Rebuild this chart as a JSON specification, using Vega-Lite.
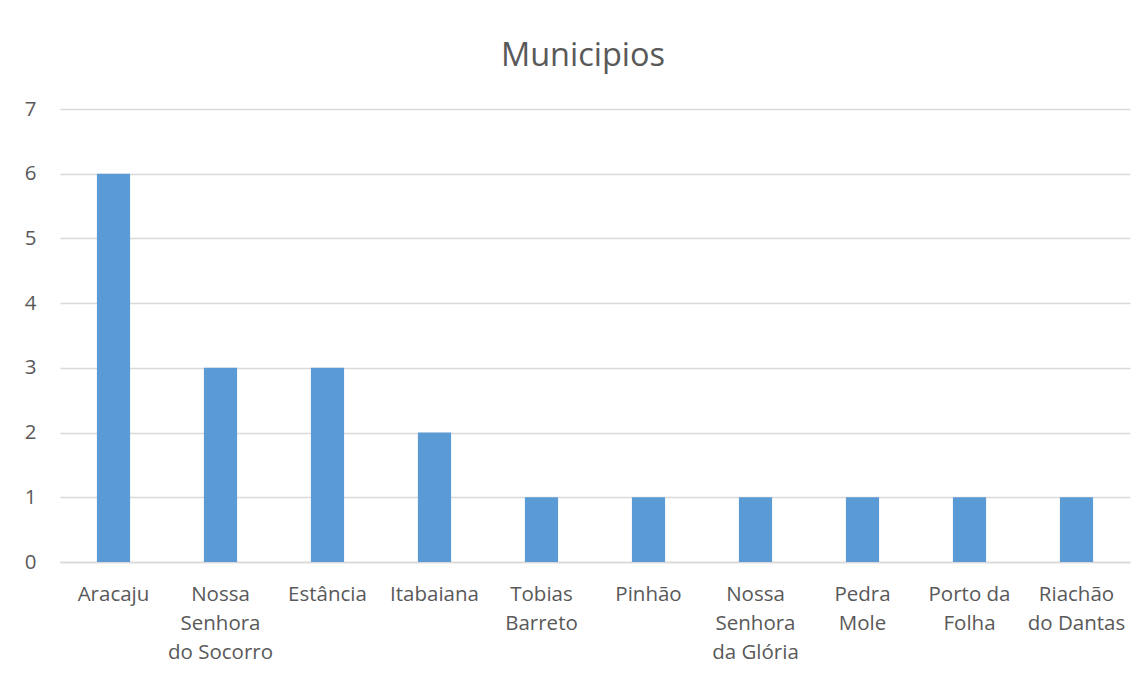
{
  "$schema": "https://vega.github.io/schema/vega-lite/v6.json",
  "width": 1070,
  "height": 453,
  "autosize": {"type": "none"},
  "padding": {"left": 60, "top": 109, "right": 17, "bottom": 112},
  "background": "white",
  "title": {
    "text": "Municipios",
    "fontSize": 32.5,
    "font": "Open Sans",
    "fontWeight": "normal",
    "color": "#595959",
    "anchor": "middle",
    "dx": -12,
    "offset": 27
  },
  "data": {
    "values": [
      {"municipio": "Aracaju", "valor": 6},
      {"municipio": "Nossa Senhora do Socorro", "valor": 3},
      {"municipio": "Estância", "valor": 3},
      {"municipio": "Itabaiana", "valor": 2},
      {"municipio": "Tobias Barreto", "valor": 1},
      {"municipio": "Pinhão", "valor": 1},
      {"municipio": "Nossa Senhora da Glória", "valor": 1},
      {"municipio": "Pedra Mole", "valor": 1},
      {"municipio": "Porto da Folha", "valor": 1},
      {"municipio": "Riachão do Dantas", "valor": 1}
    ]
  },
  "mark": {"type": "bar", "color": "#5b9bd5"},
  "encoding": {
    "x": {
      "field": "municipio",
      "type": "nominal",
      "sort": null,
      "title": null,
      "scale": {"paddingInner": 0.69, "paddingOuter": 0.345},
      "axis": {
        "labelAngle": 0,
        "labelFont": "Open Sans",
        "labelFontSize": 20.5,
        "labelColor": "#595959",
        "labelPadding": 22,
        "labelLineHeight": 29,
        "labelBaseline": "top",
        "ticks": false,
        "domain": true,
        "domainColor": "#d9d9d9",
        "domainWidth": 1.3,
        "labelLimit": 200,
        "labelExpr": "datum.value == 'Nossa Senhora do Socorro' ? ['Nossa', 'Senhora', 'do Socorro'] : datum.value == 'Tobias Barreto' ? ['Tobias', 'Barreto'] : datum.value == 'Nossa Senhora da Glória' ? ['Nossa', 'Senhora', 'da Glória'] : datum.value == 'Pedra Mole' ? ['Pedra', 'Mole'] : datum.value == 'Porto da Folha' ? ['Porto da', 'Folha'] : datum.value == 'Riachão do Dantas' ? ['Riachão', 'do Dantas'] : datum.value"
      }
    },
    "y": {
      "field": "valor",
      "type": "quantitative",
      "title": null,
      "scale": {"domain": [0, 7], "nice": false},
      "axis": {
        "values": [0, 1, 2, 3, 4, 5, 6, 7],
        "labelFont": "Open Sans",
        "labelFontSize": 20.5,
        "labelColor": "#595959",
        "labelPadding": 24,
        "ticks": false,
        "domain": false,
        "grid": true,
        "gridColor": "#d9d9d9",
        "gridWidth": 1.3
      }
    }
  },
  "config": {
    "view": {"stroke": null}
  }
}
